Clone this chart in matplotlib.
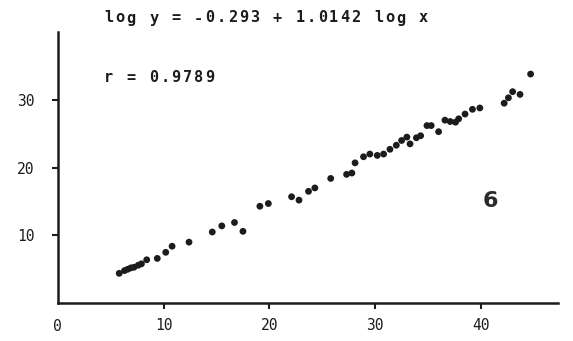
import matplotlib
matplotlib.use("Agg")
import matplotlib.pyplot as plt

# Paired observations (x, y) for the log-log regression panel
X_VALUES = [5.8, 6.3, 6.6, 6.9, 7.2, 7.6, 7.9, 8.4, 9.4, 10.2,
            10.8, 12.4, 14.6, 15.5, 16.7, 17.5, 19.1, 19.9, 22.1, 22.8,
            23.7, 24.3, 25.8, 27.3, 27.8, 28.1, 28.9, 29.5, 30.2, 30.8,
            31.4, 32.0, 32.5, 33.0, 33.3, 33.9, 34.3, 34.9, 35.3, 36.0,
            36.6, 37.1, 37.6, 37.9, 38.5, 39.2, 39.9, 42.2, 42.6, 43.0,
            43.7, 44.7]
Y_VALUES = [4.4, 4.8, 5.0, 5.2, 5.3, 5.6, 5.8, 6.4, 6.6, 7.5,
            8.4, 9.0, 10.5, 11.4, 11.9, 10.6, 14.3, 14.7, 15.7, 15.2,
            16.5, 17.0, 18.4, 19.0, 19.2, 20.7, 21.6, 22.0, 21.8, 22.0,
            22.7, 23.3, 24.0, 24.5, 23.5, 24.4, 24.7, 26.2, 26.2, 25.3,
            27.0, 26.8, 26.7, 27.2, 27.9, 28.6, 28.8, 29.5, 30.3, 31.2,
            30.8, 33.8]

X_TICKS = [10, 20, 30, 40]
Y_TICKS = [10, 20, 30]
EQUATION = "log y = -0.293 + 1.0142 log x"
R_TEXT = "r = 0.9789"
PANEL_LABEL = "6"

MONO = "DejaVu Sans Mono"
INK = "#1c1c1c"
FIG_W, FIG_H = 573, 341


def spaced_text(fig, text, left_px, center_px, advance_px, size):
    """Plotter-style text: one glyph per fixed-width cell."""
    for i, ch in enumerate(text):
        if ch == " ":
            continue
        fig.text((left_px + advance_px * (i + 0.5)) / FIG_W, 1 - center_px / FIG_H, ch,
                 ha="center", va="center", family=MONO, fontsize=size,
                 fontweight="bold", color=INK)


fig = plt.figure(figsize=(FIG_W / 100, FIG_H / 100), dpi=100)
ax = fig.add_axes([0.101, 0.111, 0.873, 0.795])

ax.scatter(X_VALUES, Y_VALUES, s=24, color=INK, edgecolors="none", zorder=3)

ax.set_xlim(0, 47.3)
ax.set_ylim(0, 40)
ax.spines["top"].set_visible(False)
ax.spines["right"].set_visible(False)
for side in ("left", "bottom"):
    ax.spines[side].set_linewidth(1.8)
    ax.spines[side].set_color(INK)

ax.set_xticks(X_TICKS)
ax.set_xticklabels([str(t) for t in X_TICKS], family=MONO, fontsize=10.5, color=INK)
ax.set_yticks(Y_TICKS)
ax.set_yticklabels([str(t) for t in Y_TICKS], family=MONO, fontsize=10.5, color=INK)
ax.tick_params(axis="x", direction="out", length=4, width=1.5, pad=7, colors=INK)
ax.tick_params(axis="y", direction="out", length=4, width=1.5, pad=13, colors=INK)

# origin label sits under the corner with no tick
ax.text(0, -0.06, "0", transform=ax.get_xaxis_transform(), ha="center", va="top",
        family=MONO, fontsize=10.5, color=INK)

spaced_text(fig, EQUATION, 103, 18, 11.25, 11)
spaced_text(fig, R_TEXT, 103, 77, 11.25, 11)
fig.text(490 / FIG_W, 1 - 201 / FIG_H, PANEL_LABEL, ha="center", va="center",
         fontsize=16, fontweight="bold", color="#2a2a2a")

fig.savefig("out.png", dpi=100)
